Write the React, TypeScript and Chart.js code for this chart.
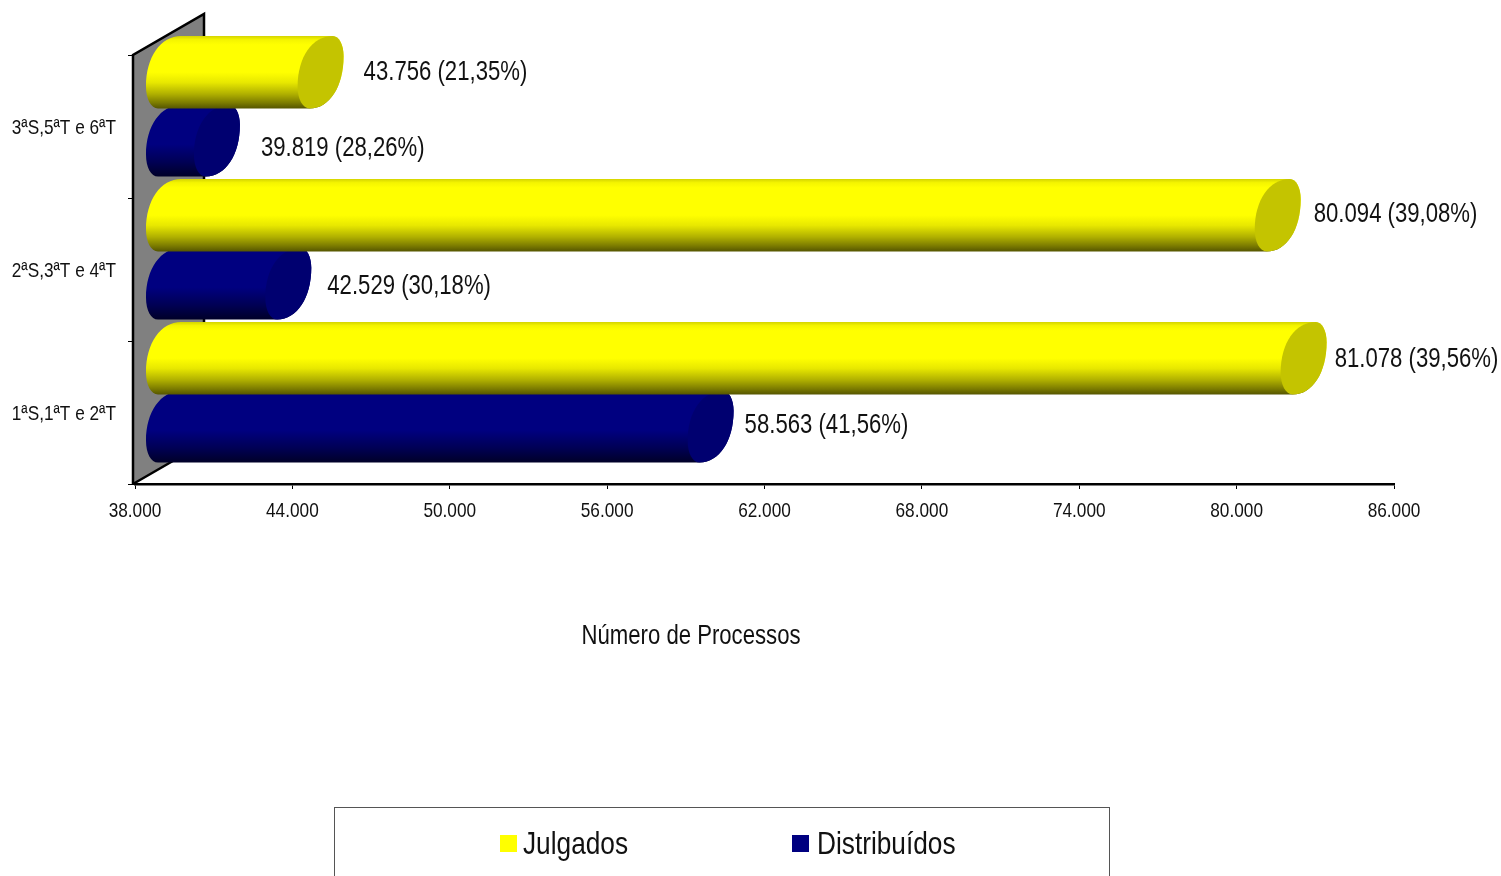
import React, { useEffect, useRef } from "react";
import { Chart, registerables } from "chart.js";

Chart.register(...registerables);

const categories = ["3ªS,5ªT e 6ªT", "2ªS,3ªT e 4ªT", "1ªS,1ªT e 2ªT"];
const julgados = [43756, 80094, 81078];
const julgadosPct = [21.35, 39.08, 39.56];
const distribuidos = [39819, 42529, 58563];
const distribuidosPct = [28.26, 30.18, 41.56];
const axisMin = 38000;
const axisMax = 86000;
const axisStep = 6000;
const axisTitle = "Número de Processos";

const SANS = '"Liberation Sans", Arial, sans-serif';
const NARROW_FACTOR = 0.82;
const fmtInt = (v: number) => String(v).replace(/\B(?=(\d{3})+$)/g, ".");
const fmtPct = (v: number) => v.toFixed(2).replace(".", ",");

const styles = [
  {
    pct: julgadosPct,
    depth: -18.5,
    grow: 0.5,
    cap: "#c4c400",
    nudgeX: [20, 13, 8],
    nudgeY: [-1, -2, 0],
    stops: [[0, "#d4d400"], [0.05, "#f4f400"], [0.12, "#ffff00"], [0.5, "#ffff00"], [0.64, "#e8e800"], [0.8, "#b0b000"], [0.92, "#7c7c00"], [1, "#555500"]] as [number, string][],
  },
  {
    pct: distribuidosPct,
    depth: -21.5,
    grow: 0,
    cap: "#000070",
    nudgeX: [21, 16, 11],
    nudgeY: [6, 1, -3],
    stops: [[0, "#000080"], [0.55, "#000080"], [0.8, "#000054"], [1, "#000028"]] as [number, string][],
  },
];

// outline of a cylinder end: flattened, skewed oval
function capPath(ctx: CanvasRenderingContext2D, cx: number, cy: number, s: number) {
  const K = 0.58;
  const T = [12, -36], R = [23, -16], B = [-11, 36], L = [-23, 14];
  const p = (x: number, y: number): [number, number] => [cx + x, cy + y * s];
  ctx.moveTo(...p(T[0], T[1]));
  ctx.bezierCurveTo(...p(T[0] + K * (R[0] - T[0]), T[1]), ...p(R[0], R[1] - K * (R[1] - T[1])), ...p(R[0], R[1]));
  ctx.bezierCurveTo(...p(R[0], R[1] + K * (B[1] - R[1])), ...p(B[0] + K * (R[0] - B[0]), B[1]), ...p(B[0], B[1]));
  ctx.bezierCurveTo(...p(B[0] - K * (B[0] - L[0]), B[1]), ...p(L[0], L[1] + K * (B[1] - L[1])), ...p(L[0], L[1]));
  ctx.bezierCurveTo(...p(L[0], L[1] - K * (L[1] - T[1])), ...p(T[0] - K * (T[0] - L[0]), T[1]), ...p(T[0], T[1]));
  ctx.closePath();
}

function cylinder(ctx: CanvasRenderingContext2D, x0: number, x1: number, top: number, bottom: number, style: (typeof styles)[number]) {
  const h = (bottom - top) / 2;
  const cy = (top + bottom) / 2;
  const s = h / 36;
  const g = ctx.createLinearGradient(0, top, 0, bottom);
  style.stops.forEach(([o, c]) => g.addColorStop(o, c));
  ctx.beginPath();
  capPath(ctx, x0, cy, s);
  ctx.moveTo(x0 + 12, top);
  ctx.lineTo(x1 + 12, top);
  ctx.lineTo(x1 - 11, bottom);
  ctx.lineTo(x0 - 11, bottom);
  ctx.closePath();
  capPath(ctx, x1, cy, s);
  ctx.fillStyle = g;
  ctx.fill();
  ctx.beginPath();
  capPath(ctx, x1, cy, s);
  ctx.fillStyle = style.cap;
  ctx.fill();
}

// every text of the chart goes through here: the reference uses a condensed sans
const narrowText = {
  id: "narrowText",
  beforeInit(chart: any) {
    const ctx = chart.ctx;
    const orig = ctx.fillText.bind(ctx);
    ctx.fillText = (t: string, x: number, y: number) => {
      ctx.save();
      ctx.translate(x, y);
      ctx.scale(NARROW_FACTOR, 1);
      orig(t, 0, 0);
      ctx.restore();
    };
  },
};

const chart3d = {
  id: "chart3d",
  beforeDatasetsDraw(chart: any) {
    const { ctx, chartArea: a, scales } = chart;
    const dxFor = (x: number) => 34 + 0.0042 * (x - a.left);
    ctx.save();
    ctx.fillStyle = "#808080";
    ctx.beginPath();
    ctx.moveTo(a.left - 2, a.top);
    ctx.lineTo(a.left + 69, a.top - 41);
    ctx.lineTo(a.left + 69, a.bottom - 41);
    ctx.lineTo(a.left - 2, a.bottom);
    ctx.closePath();
    ctx.fill();
    ctx.strokeStyle = "#000";
    ctx.lineWidth = 2.5;
    ctx.beginPath();
    ctx.moveTo(a.left - 2, a.bottom);
    ctx.lineTo(a.left - 2, a.top);
    ctx.lineTo(a.left + 69, a.top - 41);
    ctx.lineTo(a.left + 69, a.bottom - 41);
    ctx.moveTo(a.left - 2, a.bottom);
    ctx.lineTo(a.left + 69, a.bottom - 41);
    ctx.stroke();

    const x0Base = scales.x.getPixelForValue(axisMin);
    const x0 = x0Base + dxFor(x0Base);
    [1, 0].forEach((di) => {
      const meta = chart.getDatasetMeta(di);
      const st = styles[di];
      meta.data.forEach((el: any) => {
        const xp = el.x + dxFor(el.x);
        cylinder(ctx, x0, xp, el.y - el.height / 2 + st.depth - st.grow, el.y + el.height / 2 + st.depth + st.grow, st);
      });
    });

    ctx.fillStyle = "#111";
    ctx.font = `27px ${SANS}`;
    ctx.textBaseline = "middle";
    ctx.textAlign = "left";
    [0, 1].forEach((di) => {
      const meta = chart.getDatasetMeta(di);
      const st = styles[di];
      meta.data.forEach((el: any, i: number) => {
        const v = chart.data.datasets[di].data[i];
        const xp = el.x + dxFor(el.x) + 23;
        ctx.fillText(`${fmtInt(v)} (${fmtPct(st.pct[i])}%)`, xp + st.nudgeX[i], el.y + st.depth + st.nudgeY[i] + 1.5);
      });
    });

    ctx.textAlign = "center";
    ctx.fillText(axisTitle, 691, 637);

    ctx.strokeStyle = "#555";
    ctx.lineWidth = 1;
    ctx.strokeRect(334.5, 807.5, 775, 90);
    const entries = [[500, 523], [792, 817]];
    ctx.font = `32px ${SANS}`;
    ctx.textAlign = "left";
    ctx.textBaseline = "alphabetic";
    chart.data.datasets.forEach((d: any, i: number) => {
      ctx.fillStyle = d.backgroundColor;
      ctx.fillRect(entries[i][0], 835, 17, 17);
      ctx.fillStyle = "#111";
      ctx.fillText(d.label, entries[i][1], 854);
    });
    ctx.restore();
    return false;
  },
};

export default function App() {
  const ref = useRef<HTMLCanvasElement>(null);
  useEffect(() => {
    document.body.style.margin = "0";
    const chart = new Chart(ref.current!, {
      type: "bar",
      data: {
        labels: categories,
        datasets: [
          { label: "Julgados", data: julgados, backgroundColor: "#ffff00", categoryPercentage: 1, barPercentage: 1 },
          { label: "Distribuídos", data: distribuidos, backgroundColor: "#000080", categoryPercentage: 1, barPercentage: 1 },
        ],
      },
      options: {
        indexAxis: "y",
        responsive: false,
        animation: false,
        layout: { padding: { top: 55, right: 107, left: 0, bottom: 0 } },
        plugins: { legend: { display: false }, title: { display: false }, tooltip: { enabled: false } },
        scales: {
          x: {
            min: axisMin,
            max: axisMax,
            afterFit: (s: any) => { s.height = 392; },
            ticks: { stepSize: axisStep, color: "#111", padding: 10, maxRotation: 0, autoSkip: false, font: { family: SANS, size: 21 }, callback: (v: any) => fmtInt(v) },
            grid: { drawOnChartArea: false, tickLength: 5, color: "#000", tickWidth: 1 },
            border: { color: "#000", width: 2.5 },
          },
          y: {
            afterFit: (s: any) => { s.width = 135; },
            ticks: { color: "#111", padding: 12, labelOffset: 2, font: { family: SANS, size: 21 } },
            grid: { drawOnChartArea: false, offset: true, tickLength: 7, color: "#000", tickWidth: 1 },
            border: { display: false },
          },
        },
      } as any,
      plugins: [narrowText as any, chart3d as any],
    });
    return () => chart.destroy();
  }, []);
  return <canvas ref={ref} width={1501} height={876} style={{ display: "block", width: 1501, height: 876 }} />;
}
